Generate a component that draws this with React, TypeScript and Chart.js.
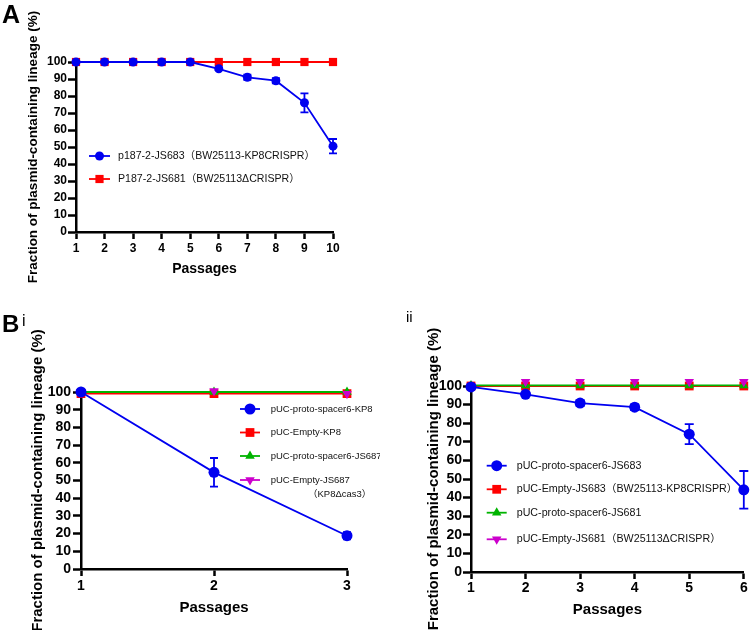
import React, { useEffect, useRef } from 'react';
import { Chart, registerables } from 'chart.js';

Chart.register(...registerables);

const FONT = '"Liberation Sans", Arial, Helvetica, "Noto Sans CJK SC", sans-serif';

// ---------- data ----------
const yTicks = [0, 10, 20, 30, 40, 50, 60, 70, 80, 90, 100];
const yTitle = 'Fraction of plasmid-containing lineage (%)';
const xTitle = 'Passages';

// Panel A
const passagesA = [1, 2, 3, 4, 5, 6, 7, 8, 9, 10];
const labelsA = ['p187-2-JS683（BW25113-KP8CRISPR）', 'P187-2-JS681（BW25113ΔCRISPR）'];
const a683 = [100, 100, 100, 100, 100, 96, 91, 89, 76, 50.5];
const a683Err = [0, 0, 0, 0, 0, 0.8, 1.5, 1.5, 5.6, 4.2];
const a681 = [100, 100, 100, 100, 100, 100, 100, 100, 100, 100];

// Panel B i
const passagesBi = [1, 2, 3];
const labelsBi = ['pUC-proto-spacer6-KP8', 'pUC-Empty-KP8', 'pUC-proto-spacer6-JS687', 'pUC-Empty-JS687'];
const noteBi = '（KP8Δcas3）';
const biSpacerKP8 = [100, 54.6, 18.8];
const biSpacerKP8Err = [0, 8.1, 2];
const biEmptyKP8 = [99.1, 99.1, 99.1];
const biSpacer687 = [100, 100, 100];
const biEmpty687 = [100, 100.5, 99];

// Panel B ii
const passagesBii = [1, 2, 3, 4, 5, 6];
const labelsBii = [
  'pUC-proto-spacer6-JS683',
  'pUC-Empty-JS683（BW25113-KP8CRISPR）',
  'pUC-proto-spacer6-JS681',
  'pUC-Empty-JS681（BW25113ΔCRISPR）',
];
const biiSpacer683 = [99.5, 95.5, 90.8, 88.6, 74.1, 44.2];
const biiSpacer683Err = [0, 0.8, 1.5, 1.5, 5.4, 10.1];
const biiEmpty683 = [100, 100, 100, 100, 100, 100];
const biiSpacer681 = [100.3, 100.3, 100.3, 100.3, 100.3, 100.3];
const biiEmpty681 = [100, 102.3, 102.3, 102.3, 102.3, 102.3];

// ---------- colours ----------
const BLUE = '#0000F0';
const RED = '#FF0000';
const GREEN = '#00B400';
const MAGENTA = '#CC00CC';

// ---------- helpers ----------
function drawMarker(ctx: CanvasRenderingContext2D, style: string, r: number, rot: number, x: number, y: number, fill: string) {
  ctx.save();
  ctx.translate(x, y);
  ctx.rotate((rot * Math.PI) / 180);
  ctx.fillStyle = fill;
  ctx.beginPath();
  if (style === 'circle') {
    ctx.arc(0, 0, r, 0, Math.PI * 2);
  } else if (style === 'rect') {
    const s = r * Math.SQRT1_2;
    ctx.rect(-s, -s, 2 * s, 2 * s);
  } else if (style === 'triangle') {
    const t = (2 * Math.PI) / 3;
    ctx.moveTo(0, -r);
    ctx.lineTo(Math.sin(t) * r, -Math.cos(t) * r);
    ctx.lineTo(Math.sin(2 * t) * r, -Math.cos(2 * t) * r);
    ctx.closePath();
  }
  ctx.fill();
  ctx.restore();
}

const errorBarPlugin = {
  id: 'errorBars',
  afterDatasetDraw(chart: any, args: any, opts: any) {
    const ds = chart.data.datasets[args.index];
    const errs: number[] | undefined = ds.errors;
    if (!errs) return;
    const ctx = chart.ctx;
    const ys = chart.scales.y;
    const half = (opts && opts.cap) || 4;
    ctx.save();
    ctx.strokeStyle = ds.borderColor;
    ctx.lineWidth = 1.8;
    args.meta.data.forEach((pt: any, i: number) => {
      const e = errs[i];
      if (!e) return;
      const v = ds.data[i].y;
      const x = pt.x;
      const y1 = ys.getPixelForValue(v + e);
      const y2 = ys.getPixelForValue(v - e);
      ctx.beginPath();
      ctx.moveTo(x, y1);
      ctx.lineTo(x, y2);
      ctx.moveTo(x - half, y1);
      ctx.lineTo(x + half, y1);
      ctx.moveTo(x - half, y2);
      ctx.lineTo(x + half, y2);
      ctx.stroke();
    });
    ctx.restore();
  },
};

const insetLegendPlugin = {
  id: 'insetLegend',
  afterDraw(chart: any, _args: any, opts: any) {
    if (!opts || !opts.rows) return;
    const ctx = chart.ctx as CanvasRenderingContext2D;
    ctx.save();
    chart.data.datasets.forEach((ds: any, i: number) => {
      const y = opts.rows[i];
      ctx.strokeStyle = ds.borderColor;
      ctx.lineWidth = 1.8;
      ctx.beginPath();
      ctx.moveTo(opts.lineX, y);
      ctx.lineTo(opts.lineX + opts.lineLen, y);
      ctx.stroke();
      drawMarker(ctx, ds.pointStyle, ds.pointRadius, ds.pointRotation || 0, opts.lineX + opts.lineLen / 2, y, ds.pointBackgroundColor);
      ctx.fillStyle = '#111';
      ctx.font = `${opts.fontSize}px ${FONT}`;
      ctx.textAlign = 'left';
      ctx.textBaseline = 'middle';
      ctx.fillText(ds.label, opts.textX, y);
    });
    if (opts.note) {
      ctx.fillStyle = '#111';
      ctx.font = `${opts.fontSize}px ${FONT}`;
      ctx.textAlign = 'left';
      ctx.textBaseline = 'middle';
      ctx.fillText(opts.note.text, opts.note.x, opts.note.y);
    }
    ctx.restore();
  },
};

type Series = {
  label: string;
  values: number[];
  errors?: number[];
  color: string;
  style: string;
  radius: number;
  rotation?: number;
  showLine?: boolean;
  order: number;
};

type Panel = {
  left: number;
  top: number;
  width: number;
  height: number;
  xValues: number[];
  series: Series[];
  yAxisWidth: number;
  xAxisHeight: number;
  padTop: number;
  padRight: number;
  tickSize: number;
  yTickLen: number;
  xTickLen: number;
  yTickPad: number;
  xTickPad: number;
  yTitleSize: number;
  yTitlePad: number;
  xTitleSize: number;
  xTitlePad: number;
  cap: number;
  legend: any;
};

function buildConfig(p: Panel): any {
  const xMin = p.xValues[0];
  const xMax = p.xValues[p.xValues.length - 1];
  return {
    type: 'line',
    data: {
      datasets: p.series.map((s) => ({
        label: s.label,
        data: p.xValues.map((x, i) => ({ x, y: s.values[i] })),
        errors: s.errors,
        borderColor: s.color,
        backgroundColor: s.color,
        borderWidth: 1.8,
        pointStyle: s.style,
        pointRadius: s.radius,
        pointRotation: s.rotation || 0,
        pointBackgroundColor: s.color,
        pointBorderColor: s.color,
        pointBorderWidth: 0,
        showLine: s.showLine !== false,
        tension: 0,
        clip: false,
        order: s.order,
      })),
    },
    options: {
      animation: false,
      responsive: false,
      events: [],
      layout: { padding: { left: 0, top: p.padTop, right: p.padRight, bottom: 0 } },
      plugins: {
        legend: { display: false },
        tooltip: { enabled: false },
        errorBars: { cap: p.cap },
        insetLegend: p.legend,
      },
      scales: {
        x: {
          type: 'linear',
          min: xMin,
          max: xMax,
          afterBuildTicks: (s: any) => {
            s.ticks = p.xValues.map((v) => ({ value: v }));
          },
          afterFit: (s: any) => {
            s.height = p.xAxisHeight;
          },
          border: { display: true, color: '#000', width: 2.5 },
          grid: {
            display: true,
            drawOnChartArea: false,
            drawTicks: true,
            tickLength: p.xTickLen,
            tickWidth: 2.5,
            tickColor: '#000',
            color: '#000',
          },
          ticks: {
            color: '#000',
            font: { family: FONT, size: p.tickSize, weight: 'bold' },
            padding: p.xTickPad,
            maxRotation: 0,
            autoSkip: false,
          },
          title: {
            display: true,
            text: xTitle,
            color: '#000',
            font: { family: FONT, size: p.xTitleSize, weight: 'bold' },
            padding: { top: 0, bottom: p.xTitlePad },
          },
        },
        y: {
          type: 'linear',
          min: 0,
          max: 100,
          afterBuildTicks: (s: any) => {
            s.ticks = yTicks.map((v) => ({ value: v }));
          },
          afterFit: (s: any) => {
            s.width = p.yAxisWidth;
          },
          border: { display: true, color: '#000', width: 2.5 },
          grid: {
            display: true,
            drawOnChartArea: false,
            drawTicks: true,
            tickLength: p.yTickLen,
            tickWidth: 2.5,
            tickColor: '#000',
            color: '#000',
          },
          ticks: {
            color: '#000',
            font: { family: FONT, size: p.tickSize, weight: 'bold' },
            padding: p.yTickPad,
            autoSkip: false,
          },
          title: {
            display: true,
            text: yTitle,
            color: '#000',
            font: { family: FONT, size: p.yTitleSize, weight: 'bold' },
            padding: { top: p.yTitlePad, bottom: 0 },
          },
        },
      },
    },
    plugins: [errorBarPlugin, insetLegendPlugin],
  };
}

function ChartPanel({ panel }: { panel: Panel }) {
  const ref = useRef<HTMLCanvasElement | null>(null);
  useEffect(() => {
    if (!ref.current) return;
    const chart = new Chart(ref.current, buildConfig(panel));
    return () => chart.destroy();
  }, [panel]);
  return (
    <canvas
      ref={ref}
      width={panel.width}
      height={panel.height}
      style={{ position: 'absolute', left: panel.left, top: panel.top, width: panel.width, height: panel.height }}
    />
  );
}

const panelA: Panel = {
  left: 0,
  top: 0,
  width: 380,
  height: 300,
  xValues: passagesA,
  series: [
    { label: labelsA[0], values: a683, errors: a683Err, color: BLUE, style: 'circle', radius: 4.5, order: 0 },
    { label: labelsA[1], values: a681, color: RED, style: 'rect', radius: 5.8, order: 1 },
  ],
  yAxisWidth: 76,
  xAxisHeight: 68,
  padTop: 62,
  padRight: 47,
  tickSize: 12,
  yTickLen: 8,
  xTickLen: 7,
  yTickPad: 1,
  xTickPad: 2,
  yTitleSize: 13.5,
  yTitlePad: 25,
  xTitleSize: 14,
  xTitlePad: 22.5,
  cap: 4,
  legend: { lineX: 89, lineLen: 21, textX: 118, rows: [156, 179], fontSize: 10.6 },
};

const panelBi: Panel = {
  left: 0,
  top: 300,
  width: 380,
  height: 330,
  xValues: passagesBi,
  series: [
    { label: labelsBi[0], values: biSpacerKP8, errors: biSpacerKP8Err, color: BLUE, style: 'circle', radius: 5.5, order: 0 },
    { label: labelsBi[1], values: biEmptyKP8, color: RED, style: 'rect', radius: 6.2, order: 3 },
    { label: labelsBi[2], values: biSpacer687, color: GREEN, style: 'triangle', radius: 5.5, order: 2 },
    { label: labelsBi[3], values: biEmpty687, color: MAGENTA, style: 'triangle', radius: 5.5, rotation: 180, showLine: false, order: 1 },
  ],
  yAxisWidth: 81,
  xAxisHeight: 61,
  padTop: 92,
  padRight: 33,
  tickSize: 14,
  yTickLen: 8,
  xTickLen: 7,
  yTickPad: 2,
  xTickPad: 2,
  yTitleSize: 15,
  yTitlePad: 28.5,
  xTitleSize: 15,
  xTitlePad: 13,
  cap: 4,
  legend: {
    lineX: 240,
    lineLen: 20,
    textX: 270.7,
    rows: [109, 132.5, 156, 180],
    fontSize: 9.5,
    note: { text: noteBi, x: 308, y: 194 },
  },
};

const panelBii: Panel = {
  left: 380,
  top: 300,
  width: 370,
  height: 330,
  xValues: passagesBii,
  series: [
    { label: labelsBii[0], values: biiSpacer683, errors: biiSpacer683Err, color: BLUE, style: 'circle', radius: 5.5, order: 0 },
    { label: labelsBii[1], values: biiEmpty683, color: RED, style: 'rect', radius: 6.2, order: 3 },
    { label: labelsBii[2], values: biiSpacer681, color: GREEN, style: 'triangle', radius: 5.5, order: 2 },
    { label: labelsBii[3], values: biiEmpty681, color: MAGENTA, style: 'triangle', radius: 5.5, rotation: 180, showLine: false, order: 1 },
  ],
  yAxisWidth: 91,
  xAxisHeight: 58,
  padTop: 86,
  padRight: 6,
  tickSize: 14,
  yTickLen: 8,
  xTickLen: 7,
  yTickPad: 1,
  xTickPad: 1,
  yTitleSize: 15,
  yTitlePad: 44.5,
  xTitleSize: 15,
  xTitlePad: 11,
  cap: 4.5,
  legend: { lineX: 106.7, lineLen: 20, textX: 136.7, rows: [165.7, 189.3, 212.7, 239.3], fontSize: 10.7 },
};

const labelStyle = (left: number, top: number, size: number, bold: boolean): React.CSSProperties => ({
  position: 'absolute',
  left,
  top,
  fontFamily: FONT,
  fontSize: size,
  fontWeight: bold ? 'bold' : 'normal',
  lineHeight: 1,
  color: '#000',
  whiteSpace: 'nowrap',
});

export default function App() {
  return (
    <div style={{ position: 'absolute', left: 0, top: 0, width: 750, height: 630, background: '#fff', overflow: 'hidden' }}>
      <ChartPanel panel={panelA} />
      <ChartPanel panel={panelBi} />
      <ChartPanel panel={panelBii} />
      <div style={labelStyle(2, 2, 25, true)}>A</div>
      <div style={labelStyle(2, 312, 24, true)}>B</div>
      <div style={labelStyle(22, 313, 16, false)}>i</div>
      <div style={labelStyle(406, 309, 15, false)}>ii</div>
    </div>
  );
}
